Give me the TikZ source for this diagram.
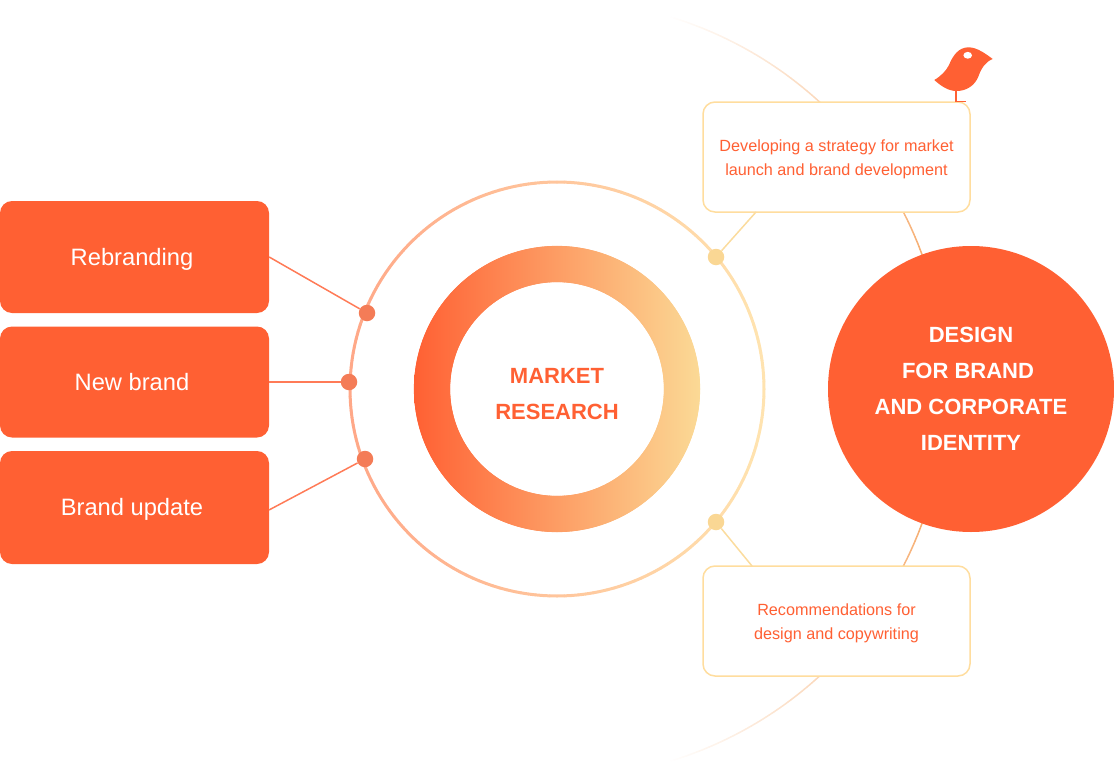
\documentclass[tikz,border=0pt]{standalone}
\usepackage{fontspec}
\usetikzlibrary{calc}
\setmainfont{Liberation Sans}
\definecolor{brand}{HTML}{FF6033}
\definecolor{sand}{HTML}{FFDD9E}
\definecolor{dotred}{HTML}{F47C57}
\definecolor{dotsand}{HTML}{FAD794}
\definecolor{linkred}{HTML}{FF7B57}
\definecolor{linksand}{HTML}{FBDC9E}
\definecolor{arcend}{HTML}{F6AE72}
\definecolor{ringL}{HTML}{FFA888}
\definecolor{ringR}{HTML}{FFE4B0}
\definecolor{donutR}{HTML}{FBDA96}
\newcommand\dropped[1]{\raisebox{-2pt}[\height][\depth]{#1}}
\newcommand\boxlabel[1]{\dropped{#1}\rule{5pt}{0pt}}
\tikzset{
  solidbox/.style={draw=none,fill=brand,rounded corners=12pt,minimum width=269pt,text=white,inner sep=0pt,font=\fontsize{23.7}{30}\selectfont},
  softbox/.style={draw=sand,line width=1.5pt,fill=white,rounded corners=12pt,minimum width=267pt,minimum height=110pt,text=brand,inner sep=0pt,align=center,font=\fontsize{16.2}{24}\selectfont},
  hub/.style={circle,fill=brand,draw=none,minimum size=286pt,inner sep=0pt,text=white,align=center,font=\bfseries\fontsize{22}{36}\selectfont},
  core/.style={inner sep=0pt,text=brand,align=center,font=\bfseries\fontsize{22}{36}\selectfont},
  dotA/.style={circle,fill=dotred,draw=none,minimum size=16.5pt,inner sep=0pt},
  dotB/.style={circle,fill=dotsand,draw=none,minimum size=16.5pt,inner sep=0pt},
  linkA/.style={draw=linkred,line width=1.5pt},
  linkB/.style={draw=linksand,line width=1.5pt},
}
\begin{document}
\begin{tikzpicture}[x=1pt,y=-1pt]
\useasboundingbox (0,0) rectangle (1114,779);
\coordinate (c) at (557,389);
% faded orbit
\foreach \a in {20,20.5,...,73}{
  \pgfmathtruncatemacro{\p}{100*(73.5-\a)/53.5}
  \pgfmathsetmacro{\b}{\a+0.5}
  \draw[color=arcend!\p!white,line width=1.5pt,line cap=round]
    ($(c)+({389*cos(\a)},{-389*sin(\a)})$) -- ($(c)+({389*cos(\b)},{-389*sin(\b)})$);
  \draw[color=arcend!\p!white,line width=1.5pt,line cap=round]
    ($(c)+({389*cos(\a)},{389*sin(\a)})$) -- ($(c)+({389*cos(\b)},{389*sin(\b)})$);
}
% outer ring
\foreach \a in {0,2,...,358}{
  \pgfmathsetmacro{\b}{\a+2}
  \pgfmathtruncatemacro{\p}{50+50*cos(\a+1)}
  \draw[color=ringR!\p!ringL,line width=3pt,line cap=round]
    ($(c)+({207*cos(\a)},{207*sin(\a)})$) -- ($(c)+({207*cos(\b)},{207*sin(\b)})$);
}
% donut
\begin{scope}[even odd rule]
  \clip (c) circle (143) (c) circle (107);
  \shade[left color=brand,right color=donutR] (413,245) rectangle (701,533);
\end{scope}
\foreach \a in {0,2,...,358}{
  \pgfmathsetmacro{\b}{\a+2}
  \pgfmathtruncatemacro{\p}{50+50*cos(\a+1)}
  \pgfmathtruncatemacro{\q}{50+37.4*cos(\a+1)}
  \draw[color=donutR!\p!brand,line width=0.8pt,line cap=round]
    ($(c)+({142.7*cos(\a)},{142.7*sin(\a)})$) -- ($(c)+({142.7*cos(\b)},{142.7*sin(\b)})$);
  \draw[color=donutR!\q!brand,line width=0.8pt,line cap=round]
    ($(c)+({107.3*cos(\a)},{107.3*sin(\a)})$) -- ($(c)+({107.3*cos(\b)},{107.3*sin(\b)})$);
}
\node[core] (mr) at (557,394) {MARKET\\RESEARCH};
% left boxes
\node[solidbox,minimum height=112pt] (reb) at (134.5,257) {\boxlabel{Rebranding}};
\node[solidbox,minimum height=111pt] (new) at (134.5,382) {New brand\rule{5pt}{0pt}};
\node[solidbox,minimum height=113pt] (upd) at (134.5,507.5) {\boxlabel{Brand update}};
\node[dotA] (d1) at (367,313) {};
\node[dotA] (d2) at (349,382) {};
\node[dotA] (d3) at (365,459) {};
\coordinate (upde) at (269,510);
\draw[linkA] (reb.east) -- (d1);
\draw[linkA] (new.east) -- (d2);
\draw[linkA] (upde) -- (d3);
% right boxes
\node[softbox] (top) at (836.5,157) {\dropped{Developing a strategy for market}\\\dropped{launch and brand development}};
\node[softbox] (bot) at (836.5,621) {\dropped{Recommendations for}\\\dropped{design and copywriting}};
\node[dotB] (d4) at (716,257) {};
\node[dotB] (d5) at (716,522) {};
\coordinate (t4) at (756,212);
\coordinate (b5) at (752,566);
\draw[linkB] (d4) -- (t4);
\draw[linkB] (d5) -- (b5);
% hub
\node[hub] (hub) at (971,389) {DESIGN\\FOR BRAND\rule{6pt}{0pt}\\AND CORPORATE\\IDENTITY};
% bird legs and body
\fill[brand] (955,91) rectangle (956.6,102.2);
\fill[brand] (955,100.8) rectangle (966,102.2);
\fill[brand] (934.3,80) .. controls (941,76) and (946,71) .. (949,65)
  .. controls (953,55) and (959,47.3) .. (968.5,47.3)
  .. controls (977,47.3) and (986,54) .. (992.7,59)
  .. controls (985,62) and (981,69) .. (978.3,76.7)
  .. controls (975,85) and (967,91) .. (956.7,91)
  .. controls (948,91) and (941,86) .. (934.3,80) -- cycle;
\fill[white] (967.7,55.3) ellipse (4.3 and 3.4);
\end{tikzpicture}
\end{document}
